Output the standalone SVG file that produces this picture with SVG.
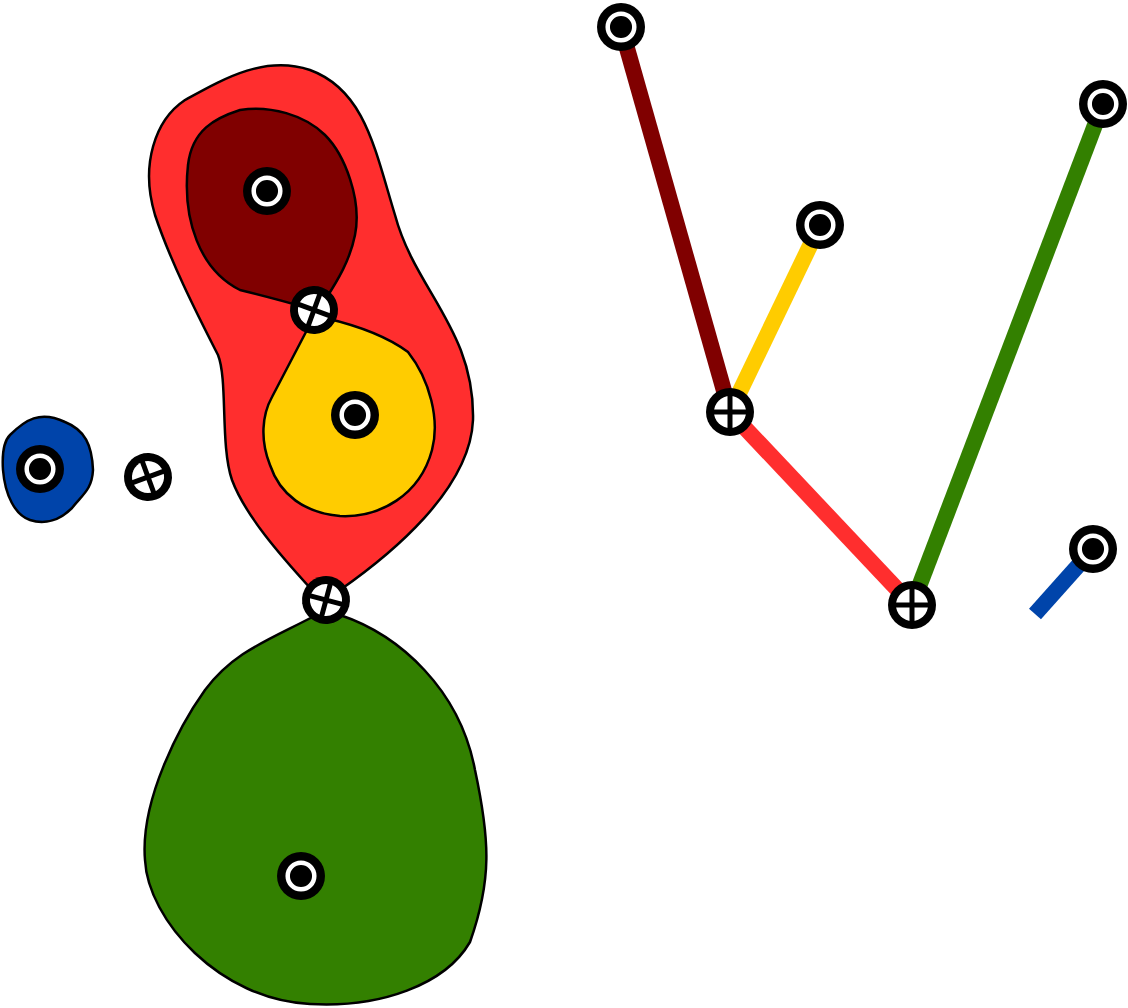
<svg xmlns="http://www.w3.org/2000/svg" xmlns:xlink="http://www.w3.org/1999/xlink" width="1128" height="1008" viewBox="0 0 1128 1008">
<style>
.reg{stroke:#000;stroke-width:2.5;stroke-linejoin:round}
.edge{fill:none;stroke-width:16}
</style>
<defs>
<g id="site">
<circle r="24" fill="#000"/>
<circle r="13.3" fill="none" stroke="#fff" stroke-width="4.5"/>
</g>
<g id="cross">
<circle r="24" fill="#000"/>
<circle r="16" fill="#fff"/>
<path d="M-17,0H17M0,-17V17" stroke="#000" stroke-width="5"/>
</g>
</defs>
<g id="regions">
<path id="r-red" class="reg" fill="#ff2e2e" d="M312,590C280,555 245,515 232,480C220,445 228,380 218,355C195,310 170,260 155,215C140,165 155,120 185,100C225,78 265,55 310,70C365,90 375,150 395,215C415,290 475,330 473,420C470,490 390,555 340,590Z"/>
<path id="r-darkred" class="reg" fill="#800000" d="M300,306C280,300 260,295 240,290C200,270 182,220 188,165C192,130 215,118 240,110C270,105 305,115 325,135C345,155 362,200 355,235C350,260 338,280 325,300Z"/>
<path id="r-yellow" class="reg" fill="#ffcc00" d="M325,318C355,325 385,335 408,352C430,380 440,420 432,450C420,495 380,518 340,516C305,513 280,495 270,465C260,440 262,415 272,397L307,330Z"/>
<path id="r-green" class="reg" fill="#338000" d="M322,612C270,640 235,650 205,690C180,725 140,800 145,860C148,920 220,1000 310,1004C380,1008 445,985 470,942C492,880 490,840 475,770C460,690 400,635 340,615Z"/>
<path id="r-blue" class="reg" fill="#0044aa" d="M10,435C25,420 40,410 65,422C85,430 92,445 93,470C92,490 82,495 72,508C60,520 45,525 30,520C15,515 5,495 3,470C2,455 3,442 10,435Z"/>
</g>
<g id="connectors">
<line class="edge" stroke="#800000" x1="621" y1="27" x2="730" y2="412"/>
<line class="edge" stroke="#ffcc00" x1="820" y1="225" x2="730" y2="412"/>
<line class="edge" stroke="#ff2e2e" x1="730" y1="412" x2="912" y2="605"/>
<line class="edge" stroke="#338000" x1="1103" y1="104" x2="912" y2="605"/>
<line class="edge" stroke="#0044aa" x1="1093" y1="549" x2="1035" y2="614"/>
</g>
<g id="n-site-darkred"><use xlink:href="#site" x="267" y="191"/></g>
<g id="n-site-yellow"><use xlink:href="#site" x="355" y="415"/></g>
<g id="n-site-blue"><use xlink:href="#site" x="40" y="469"/></g>
<g id="n-site-green"><use xlink:href="#site" x="301" y="876"/></g>
<g id="n-cross-1"><use xlink:href="#cross" transform="translate(314,310) rotate(20)"/></g>
<g id="n-cross-2"><use xlink:href="#cross" transform="translate(148,477) rotate(-20)"/></g>
<g id="n-cross-3"><use xlink:href="#cross" transform="translate(326,600) rotate(15)"/></g>
<g id="n-t-darkred"><use xlink:href="#site" x="621" y="27"/></g>
<g id="n-t-yellow"><use xlink:href="#site" x="820" y="225"/></g>
<g id="n-t-green"><use xlink:href="#site" x="1103" y="104"/></g>
<g id="n-t-blue"><use xlink:href="#site" x="1093" y="549"/></g>
<g id="n-t-cross1"><use xlink:href="#cross" x="730" y="412"/></g>
<g id="n-t-cross2"><use xlink:href="#cross" x="912" y="605"/></g>
</svg>
